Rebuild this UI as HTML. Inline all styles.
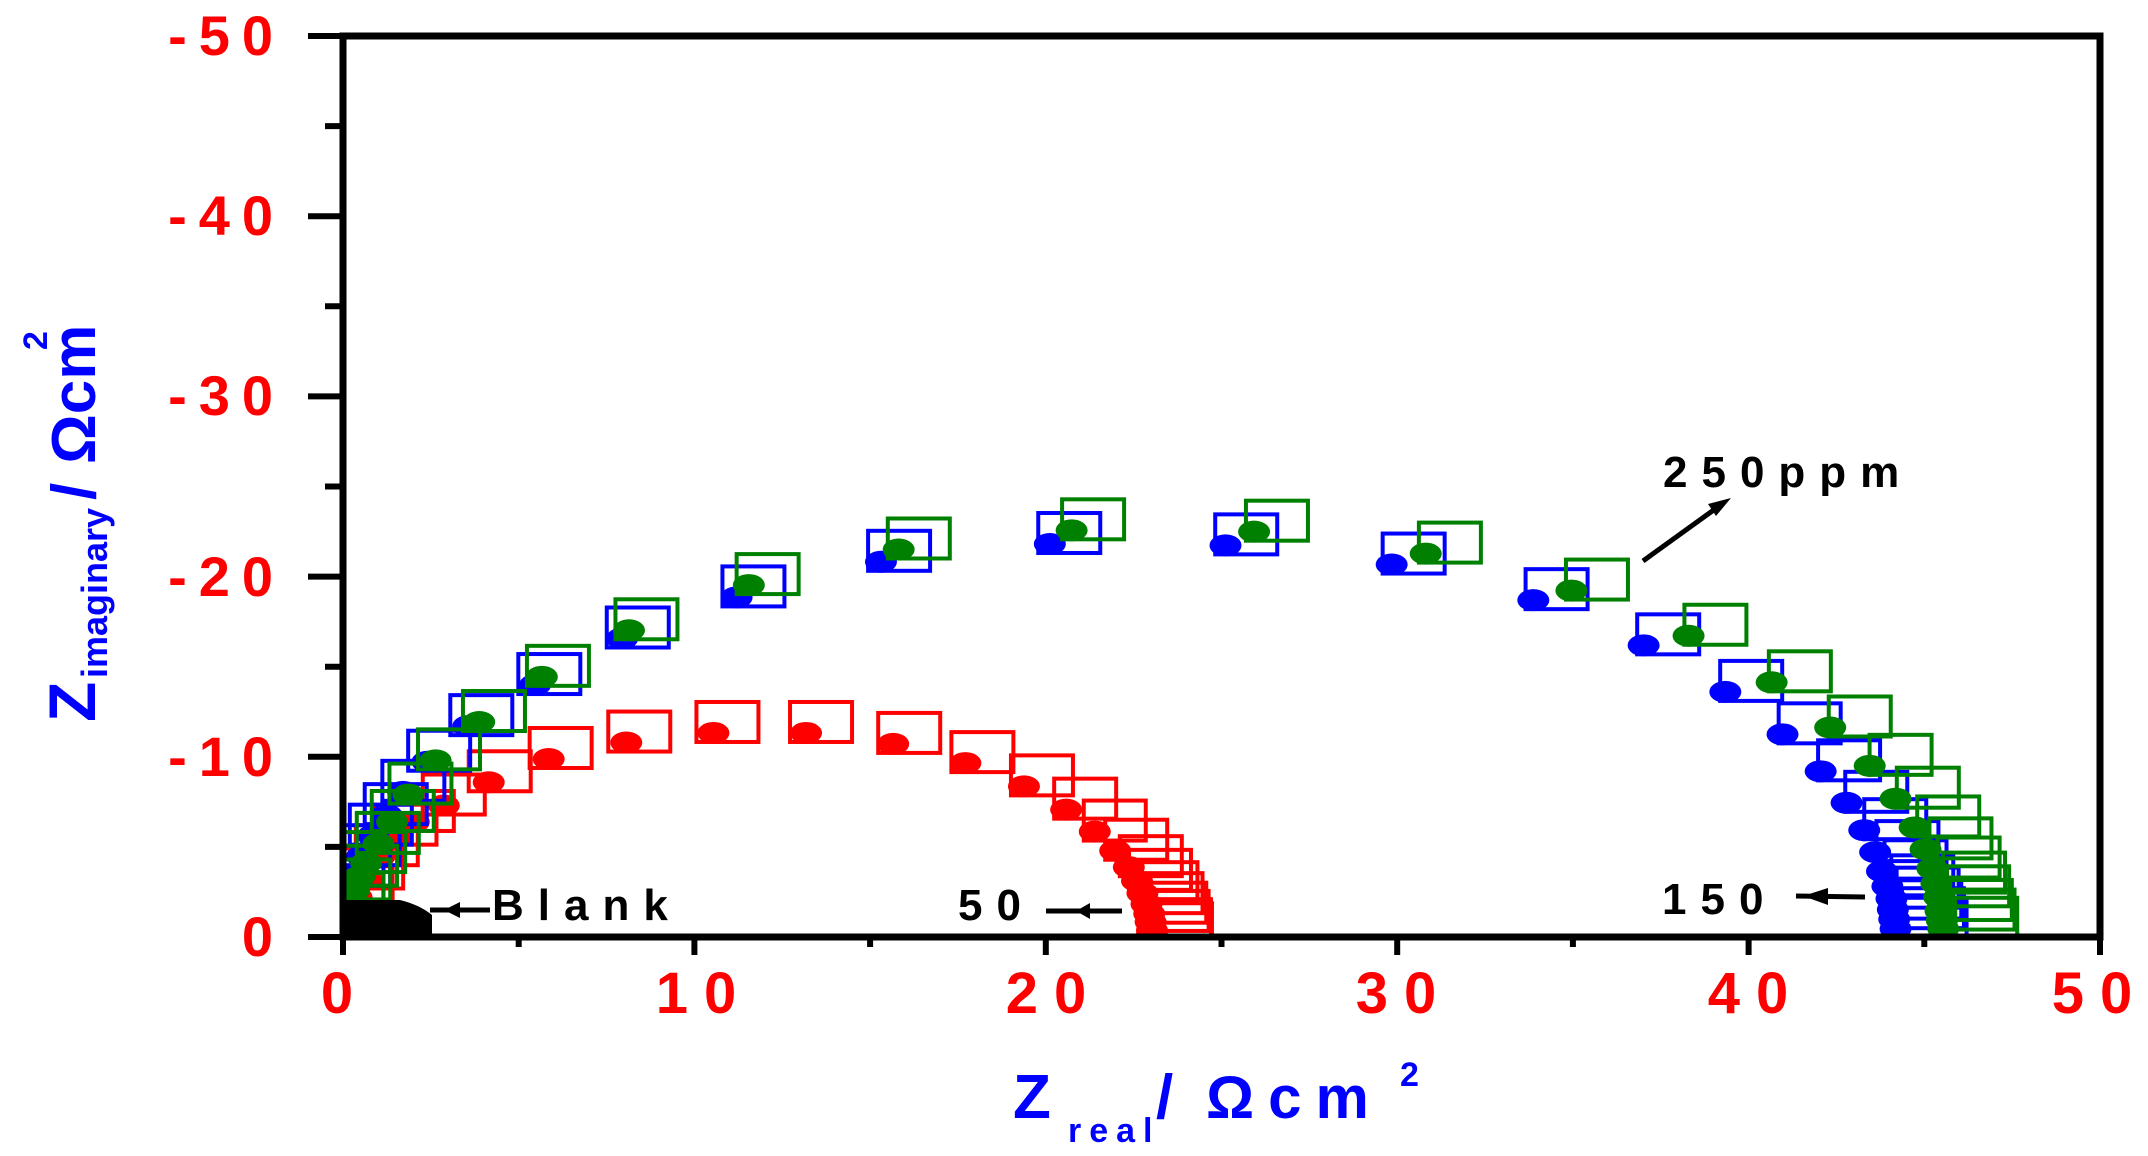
<!DOCTYPE html>
<html><head><meta charset="utf-8"><style>
html,body{margin:0;padding:0;background:#fff;}
svg{display:block;}
text{font-family:"Liberation Sans",Arial,sans-serif;font-weight:bold;}
</style></head><body>
<svg id="s" width="2148" height="1156" viewBox="0 0 2148 1156" xmlns="http://www.w3.org/2000/svg">
<defs><clipPath id="c"><rect x="343" y="36" width="1757" height="901"/></clipPath></defs>
<g id="plot" clip-path="url(#c)"></g>
<rect x="343" y="36" width="1757" height="901" fill="none" stroke="#000" stroke-width="7"/>
<g id="ticks" stroke="#000" stroke-width="6"></g>
<g fill="#ff0000" font-size="56" text-anchor="end" letter-spacing="12">
<text x="285" y="55">-50</text>
<text x="285" y="235">-40</text>
<text x="285" y="415">-30</text>
<text x="285" y="596">-20</text>
<text x="285" y="776">-10</text>
<text x="285" y="956">0</text>
</g>
<g fill="#ff0000" font-size="58" text-anchor="middle" letter-spacing="16">
<text x="345" y="1013">0</text>
<text x="704" y="1013">10</text>
<text x="1054" y="1013">20</text>
<text x="1404" y="1013">30</text>
<text x="1756" y="1013">40</text>
<text x="2100" y="1013">50</text>
</g>
<g fill="#0000ff">
<text x="1013" y="1118" font-size="62">Z</text>
<text x="1068" y="1142" font-size="34" letter-spacing="8">real</text>
<text x="1156" y="1118" font-size="62">/</text>
<text x="1206" y="1118" font-size="60" letter-spacing="14">Ωcm</text>
<text x="1400" y="1086" font-size="34">2</text>
<g transform="translate(95,722) rotate(-90)">
<text x="0" y="0" font-size="66">Z</text>
<text x="44" y="12" font-size="36" font-weight="normal">imaginary</text>
<text x="222" y="0" font-size="62" font-weight="normal">/</text>
<text x="258" y="0" font-size="62">Ωcm</text>
<text x="372" y="-48" font-size="34" font-weight="normal">2</text>
</g>
</g>
<g fill="#000" font-size="44" letter-spacing="14">
<text x="1663" y="487">250ppm</text>
<text x="1662" y="914">150</text>
<text x="958" y="920">50</text>
<text x="492" y="920">Blank</text>
</g>
<g stroke="#000" stroke-width="5" fill="#000">
<line x1="1643" y1="561" x2="1722" y2="504"/>
<polygon points="1731,498 1708,504 1716,516" stroke="none"/>
<line x1="1796" y1="896" x2="1865" y2="897"/>
<polygon points="1803,896 1828,888 1828,905" stroke="none"/>
<line x1="1046" y1="911" x2="1122" y2="911"/>
<polygon points="1076,911 1090,903 1090,919" stroke="none"/>
<line x1="430" y1="910" x2="490" y2="910"/>
<polygon points="444,910 460,902 460,918" stroke="none"/>
</g>
</svg>
<script>
var NS="http://www.w3.org/2000/svg";
function rx(d){return 343+(d-248)*1.3619;}
function ry(d){return 36+(d-26)*1.3693;}
var plot=document.getElementById('plot');
function el(t,a){var e=document.createElementNS(NS,t);for(var k in a)e.setAttribute(k,a[k]);plot.appendChild(e);return e;}
function series(pts,col,dx0,dx1,w1){
  var n=pts.length;
  pts.forEach(function(p,i){
    var x=rx(p[0]),y=ry(p[1]);var dx=dx0+(dx1-dx0)*i/(n-1);
    el('rect',{x:x+dx,y:y-31,width:w1||62,height:40,fill:'none',stroke:col,'stroke-width':4});
  });
  pts.forEach(function(p){
    el('ellipse',{cx:rx(p[0]),cy:ry(p[1]),rx:16,ry:11,fill:col});
  });
}
var red=[[252,668],[258,655],[265,642],[275,625],[288,610],[300,600],[322,588],[355,571],[399,554],[456,542],[520,535],[588,535],[652,543],[705,557],[748,574],[779,591],[800,607],[815,621],[825,633],[831,643],[835,652],[838,660],[840,667],[841,673],[842,679],[842,682]];
var blue=[[252,655],[256,640],[262,625],[270,610],[280,595],[292,578],[310,556],[340,530],[389,500],[453,466],[537,436],[643,410],[767,397],[896,398],[1018,412],[1122,438],[1203,471],[1263,505],[1305,536],[1333,563],[1352,586],[1365,606],[1373,622],[1378,636],[1382,647],[1385,656],[1386,664],[1387,671],[1388,678]];
var green=[[252,660],[256,650],[260,640],[265,630],[274,616],[284,600],[296,580],[316,555],[348,527],[394,494],[458,460],[546,427],[656,401],[783,387],[917,388],[1043,404],[1150,431],[1236,464],[1297,498],[1340,531],[1369,559],[1388,583],[1402,604],[1410,620],[1415,634],[1418,645],[1420,655],[1421,665],[1422,672],[1423,678]];
series(red,'#ff0000',-27,-2);
series(blue,'#0000ff',-27,9);
series(green,'#008000',-27,12);
el('path',{d:'M343,900 L400,900 Q420,905 432,915 L432,937 L343,937 Z',fill:'#000'});
el('rect',{x:345,y:918,width:85,height:19,fill:'none',stroke:'#000','stroke-width':4});
var tg=document.getElementById('ticks');
function ln(x1,y1,x2,y2){var e=document.createElementNS(NS,'line');e.setAttribute('x1',x1);e.setAttribute('y1',y1);e.setAttribute('x2',x2);e.setAttribute('y2',y2);tg.appendChild(e);}
for(var i=0;i<=10;i++){var y=937-i*90.1;ln(i%2?325:308,y,343,y);}
for(var i=0;i<=10;i++){var x=343+i*175.7;ln(x,937,x,i%2?947:955);}
</script>
</body></html>
